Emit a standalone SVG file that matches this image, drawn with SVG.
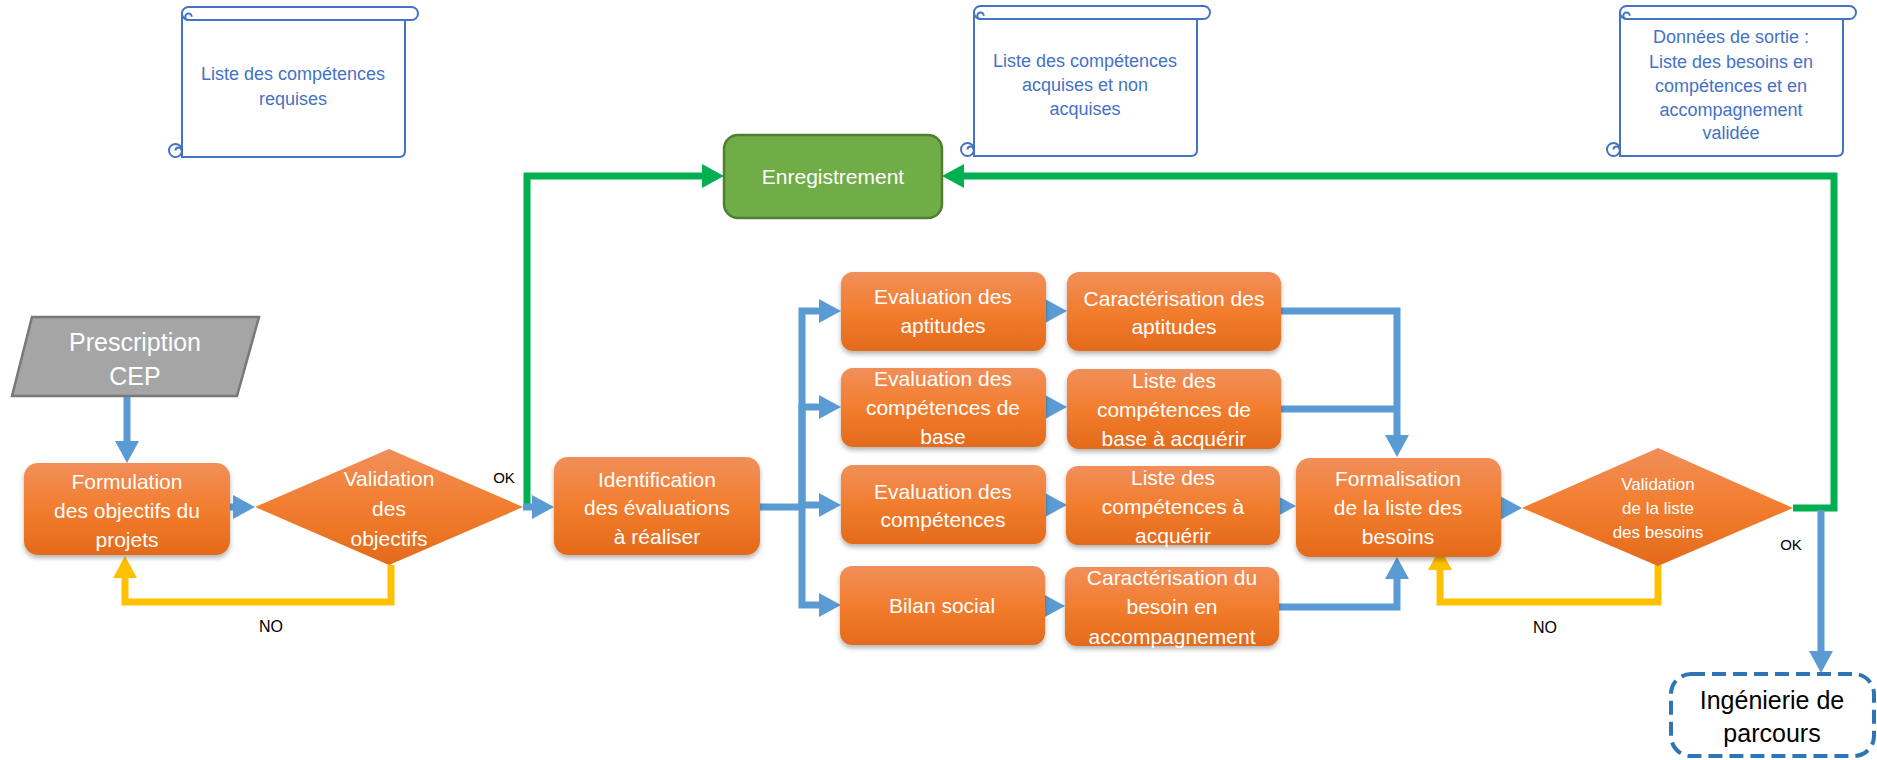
<svg xmlns="http://www.w3.org/2000/svg" width="1877" height="760" viewBox="0 0 1877 760">
<defs>
  <linearGradient id="og" x1="0" y1="0" x2="0" y2="1">
    <stop offset="0" stop-color="#F18F5A"/>
    <stop offset="0.5" stop-color="#F27D2E"/>
    <stop offset="1" stop-color="#E46A1B"/>
  </linearGradient>
  <filter id="sh" x="-10%" y="-10%" width="120%" height="135%">
    <feDropShadow dx="0" dy="3" stdDeviation="2.5" flood-color="#000" flood-opacity="0.3"/>
  </filter>
  <marker id="ab" markerUnits="userSpaceOnUse" markerWidth="24" markerHeight="26" viewBox="0 -13 24 26" refX="0" refY="0" orient="auto"><path d="M0,-12 L22,0 L0,12 Z" fill="#5B9BD5"/></marker>
  <marker id="ay" markerUnits="userSpaceOnUse" markerWidth="24" markerHeight="26" viewBox="0 -13 24 26" refX="0" refY="0" orient="auto"><path d="M0,-12 L22,0 L0,12 Z" fill="#FFC000"/></marker>
  <marker id="ag" markerUnits="userSpaceOnUse" markerWidth="24" markerHeight="26" viewBox="0 -13 24 26" refX="0" refY="0" orient="auto"><path d="M0,-12 L22,0 L0,12 Z" fill="#00B050"/></marker>
  <g id="scroll" class="scl">
    <path d="M0,6.5 V150 H217 Q223,150 223,144 V13 Z"/>
    <circle cx="-6.5" cy="143.5" r="6.5"/>
    <path d="M-6.5,143.5 A3,3 0 0 1 -0.5,143.5" fill="none"/>
    <rect x="0" y="0" width="236" height="13" rx="6.5"/>
    <path d="M6.5,13 A3.25,3.25 0 0 1 6.5,6.5 A3.25,3.25 0 0 1 9.75,9.75" fill="none"/>
  </g>
</defs>
<style>
  .scl{fill:#fff;stroke:#4472C4;stroke-width:2}
  .st{font-family:"Liberation Sans",Arial,sans-serif;font-size:18px;fill:#4472C4;text-anchor:middle}
  .box{fill:url(#og);filter:url(#sh)}
  .dia{fill:url(#og)}
  .wt{font-family:"Liberation Sans",Arial,sans-serif;font-size:21px;fill:#fff;text-anchor:middle}
  .lb{font-family:"Liberation Sans",Arial,sans-serif;font-size:15px;fill:#000;text-anchor:middle}
  .bl{fill:none;stroke:#5B9BD5;stroke-width:7;marker-end:url(#ab)}
  .bn{fill:none;stroke:#5B9BD5;stroke-width:7}
  .yl{fill:none;stroke:#FFC000;stroke-width:7;marker-end:url(#ay)}
  .gr{fill:none;stroke:#00B050;stroke-width:7;marker-end:url(#ag)}
</style>

<g id="connectors">
  <path class="bl" d="M127,396 V441"/>
  <path class="bl" d="M228,507 H233"/>
  <path class="yl" d="M391,565 V602 H125 V578"/>
  <path class="gr" d="M527,510 V176 H702"/>
  <path class="bl" d="M523,507 H532"/>
  <path class="bn" d="M760,507 H802"/>
  <path class="bl" d="M802,507 V311 H819"/>
  <path class="bl" d="M802,507 V407 H819"/>
  <path class="bl" d="M802,507 V505 H819"/>
  <path class="bl" d="M802,507 V605 H819"/>
  <path class="bl" d="M1042,311 H1045"/>
  <path class="bl" d="M1042,407 H1045"/>
  <path class="bl" d="M1042,505 H1045"/>
  <path class="bl" d="M1040,606 H1043"/>
  <path class="bl" d="M1281,311 H1397 V435"/>
  <path class="bn" d="M1281,409 H1397"/>
  <path class="bl" d="M1270,506 H1274"/>
  <path class="bl" d="M1279,607 H1397 V579"/>
  <path class="bl" d="M1497,508 H1500"/>
  <path class="yl" d="M1658,565 V602 H1440 V570"/>
  <path class="gr" d="M1793,508 H1834 V176 H964"/>
  <path class="bl" d="M1821,510 V651"/>
</g>

<g id="scroll1"><use href="#scroll" x="182" y="7"/>
  <text class="st" x="293" y="80">Liste des compétences</text>
  <text class="st" x="293" y="105">requises</text></g>
<g id="scroll2"><use href="#scroll" x="974" y="6"/>
  <text class="st" x="1085" y="67">Liste des compétences</text>
  <text class="st" x="1085" y="91">acquises et non</text>
  <text class="st" x="1085" y="115">acquises</text></g>
<g id="scroll3"><use href="#scroll" x="1620" y="6"/>
  <text class="st" x="1731" y="43">Données de sortie :</text>
  <text class="st" x="1731" y="68">Liste des besoins en</text>
  <text class="st" x="1731" y="92">compétences et en</text>
  <text class="st" x="1731" y="116">accompagnement</text>
  <text class="st" x="1731" y="139">validée</text></g>

<g id="enregistrement">
  <rect x="724" y="135" width="218" height="83" rx="14" fill="#70AD47" stroke="#507E32" stroke-width="2.5"/>
  <text class="wt" x="833" y="184">Enregistrement</text></g>

<g id="prescription">
  <polygon points="32,317 259,317 237,396 12,396" fill="#A5A5A5" stroke="#787878" stroke-width="2.5"/>
  <text class="wt" style="font-size:25px" x="135" y="351">Prescription</text>
  <text class="wt" style="font-size:25px" x="135" y="385">CEP</text></g>

<g id="formulation">
  <rect class="box" x="24" y="463" width="206" height="92" rx="14"/>
  <text class="wt" x="127" y="489">Formulation</text>
  <text class="wt" x="127" y="518">des objectifs du</text>
  <text class="wt" x="127" y="547">projets</text></g>

<g id="validation1">
  <polygon class="dia" points="255,507 389,449 523,507 389,565"/>
  <text class="wt" x="389" y="486">Validation</text>
  <text class="wt" x="389" y="516">des</text>
  <text class="wt" x="389" y="546">objectifs</text></g>

<g id="identification">
  <rect class="box" x="554" y="457" width="206" height="98" rx="14"/>
  <text class="wt" x="657" y="487">Identification</text>
  <text class="wt" x="657" y="515">des évaluations</text>
  <text class="wt" x="657" y="544">à réaliser</text></g>

<g id="eval-aptitudes">
  <rect class="box" x="841" y="272" width="205" height="79" rx="12"/>
  <text class="wt" x="943" y="304">Evaluation des</text>
  <text class="wt" x="943" y="333">aptitudes</text></g>
<g id="eval-base">
  <rect class="box" x="841" y="368" width="205" height="79" rx="12"/>
  <text class="wt" x="943" y="386">Evaluation des</text>
  <text class="wt" x="943" y="415">compétences de</text>
  <text class="wt" x="943" y="444">base</text></g>
<g id="eval-comp">
  <rect class="box" x="841" y="465" width="205" height="79" rx="12"/>
  <text class="wt" x="943" y="499">Evaluation des</text>
  <text class="wt" x="943" y="527">compétences</text></g>
<g id="bilan">
  <rect class="box" x="840" y="566" width="205" height="79" rx="12"/>
  <text class="wt" x="942" y="613">Bilan social</text></g>

<g id="car-aptitudes">
  <rect class="box" x="1067" y="272" width="214" height="79" rx="12"/>
  <text class="wt" x="1174" y="306">Caractérisation des</text>
  <text class="wt" x="1174" y="334">aptitudes</text></g>
<g id="liste-base">
  <rect class="box" x="1067" y="369" width="214" height="80" rx="12"/>
  <text class="wt" x="1174" y="388">Liste des</text>
  <text class="wt" x="1174" y="417">compétences de</text>
  <text class="wt" x="1174" y="446">base à acquérir</text></g>
<g id="liste-acq">
  <rect class="box" x="1066" y="466" width="214" height="79" rx="12"/>
  <text class="wt" x="1173" y="485">Liste des</text>
  <text class="wt" x="1173" y="514">compétences à</text>
  <text class="wt" x="1173" y="543">acquérir</text></g>
<g id="car-besoin">
  <rect class="box" x="1065" y="567" width="214" height="79" rx="12"/>
  <text class="wt" x="1172" y="585">Caractérisation du</text>
  <text class="wt" x="1172" y="614">besoin en</text>
  <text class="wt" x="1172" y="644">accompagnement</text></g>

<g id="formalisation">
  <rect class="box" x="1296" y="458" width="205" height="99" rx="14"/>
  <text class="wt" x="1398" y="486">Formalisation</text>
  <text class="wt" x="1398" y="515">de la liste des</text>
  <text class="wt" x="1398" y="544">besoins</text></g>

<g id="validation2">
  <polygon class="dia" points="1522,508 1658,448 1793,508 1658,566"/>
  <text class="wt" style="font-size:17px" x="1658" y="490">Validation</text>
  <text class="wt" style="font-size:17px" x="1658" y="514">de la liste</text>
  <text class="wt" style="font-size:17px" x="1658" y="538">des besoins</text></g>

<g id="ingenierie">
  <rect x="1671" y="674" width="203" height="82" rx="20" fill="#fff" stroke="#2E75B6" stroke-width="4" stroke-dasharray="14 7"/>
  <text class="wt" style="font-size:25px;fill:#000" x="1772" y="709">Ingénierie de</text>
  <text class="wt" style="font-size:25px;fill:#000" x="1772" y="742">parcours</text></g>

<g id="labels">
  <text class="lb" x="504" y="483">OK</text>
  <text class="lb" style="font-size:16px" x="271" y="632">NO</text>
  <text class="lb" style="font-size:16px" x="1545" y="633">NO</text>
  <text class="lb" x="1791" y="550">OK</text>
</g>
</svg>
